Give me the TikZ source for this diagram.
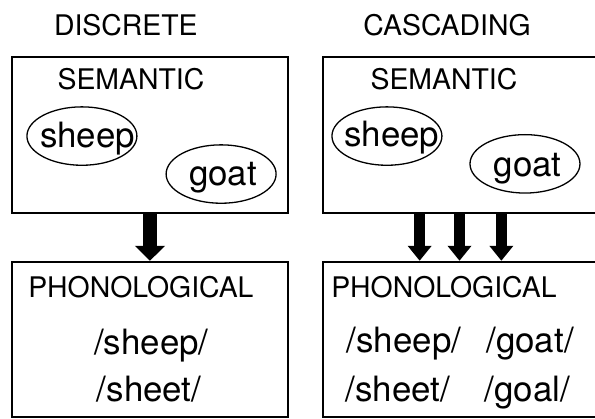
\documentclass[tikz,border=0pt]{standalone}
\usepackage{fontspec}
\setmainfont{TeX Gyre Heros}
\usepackage{tikz}
\usetikzlibrary{shapes.geometric, arrows.meta, positioning}

\begin{document}
\begin{tikzpicture}[
  panel/.style={draw, line width=2.6pt, inner sep=0pt},
  word/.style={draw, ellipse, line width=1.3pt, minimum width=3.88cm, minimum height=2.06cm, inner sep=0pt},
  caps/.style={font=\fontsize{28.5}{32}\selectfont, anchor=base},
  big/.style={font=\fontsize{35}{40}\selectfont, anchor=base},
  flow/.style={line width=#1, -{Triangle[width=2.1*#1, length=15pt]}}
]
\clip (0,0) rectangle (20.99,14.78);

% Panels
\node[panel, minimum width=9.74cm, minimum height=5.50cm] (semL) at (5.29,10.02) {};
\node[panel, minimum width=9.63cm, minimum height=5.50cm] (semR) at (16.21,10.02) {};
\node[panel, minimum width=9.74cm, minimum height=5.47cm] (phonL) at (5.29,2.80) {};
\node[panel, minimum width=9.63cm, minimum height=5.47cm] (phonR) at (16.21,2.80) {};

% Headings
\node[caps] (discrete) at (4.44,13.51) {DISCRETE};
\node[caps] (cascading) at (15.77,13.51) {CASCADING};
\node[caps] (semLabelL) at (4.62,11.61) {SEMANTIC};
\node[caps] (semLabelR) at (15.66,11.61) {SEMANTIC};
\node[caps] (phonLabelL) at (4.97,4.30) {PHONOLOGICAL};
\node[caps] (phonLabelR) at (15.66,4.30) {PHONOLOGICAL};

% Meanings
\node[word] (sheepL) at (2.89,9.98) {};
\node[word] (goatL) at (7.80,8.64) {};
\node[word] (sheepR) at (13.65,9.98) {};
\node[word] (goatR) at (18.52,9.00) {};
\node[big] (sheepTxtL) at (3.09,9.56) {sheep};
\node[big] (goatTxtL) at (7.87,8.25) {goat};
\node[big] (sheepTxtR) at (13.82,9.60) {sheep};
\node[big] (goatTxtR) at (18.61,8.54) {goat};

% Sound forms
\node[big] (sheepSndL) at (5.34,2.29) {/sheep/};
\node[big] (sheetSndL) at (5.26,0.60) {/sheet/};
\node[big] (sheepSndR) at (14.25,2.33) {/sheep/};
\node[big] (goatSndR) at (18.70,2.33) {/goat/};
\node[big] (sheetSndR) at (14.04,0.60) {/sheet/};
\node[big] (goalSndR) at (18.61,0.60) {/goal/};

% Flow between levels
\draw[flow=14pt] (semL.south) -- (phonL.north);
\foreach \dx in {-40pt, 0pt, 42pt}
  \draw[flow=11pt] ([xshift=\dx]semR.south) -- ([xshift=\dx]phonR.north);
\end{tikzpicture}
\end{document}
